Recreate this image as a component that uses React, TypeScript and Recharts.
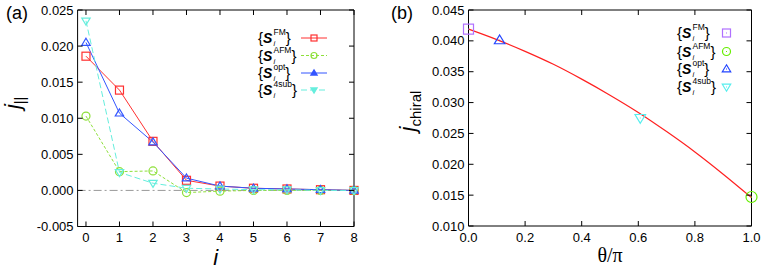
import React from 'react'
import {
  ComposedChart,
  LineChart,
  Line,
  Scatter,
  XAxis,
  YAxis,
  ReferenceLine,
} from 'recharts'

const SANS = '"Liberation Sans", Arial, Helvetica, sans-serif'
const SERIF = '"Liberation Serif", "Times New Roman", serif'

// ---- panel (a): j_parallel vs site i
const SITES = [0, 1, 2, 3, 4, 5, 6, 7, 8]
const J_PAR_FM = [0.0186, 0.0139, 0.0068, 0.0014, 0.0006, 0.0003, 0.0002, 0.0001, 0.0]
const J_PAR_AFM = [0.0103, 0.0026, 0.0027, -0.0003, -0.0001, 0.0, 0.0, 0.0, 0.0]
const J_PAR_OPT = [0.0205, 0.0107, 0.0067, 0.0017, 0.0006, 0.0003, 0.0002, 0.0001, 0.0]
const J_PAR_4SUB = [0.0235, 0.0025, 0.001, 0.0003, 0.0002, 0.0001, 0.0001, 0.0, 0.0]
const A_X_TICKS = [0, 1, 2, 3, 4, 5, 6, 7, 8]
const A_Y_TICKS = [-0.005, 0, 0.005, 0.01, 0.015, 0.02, 0.025]

const SERIES_SUP = ['FM', 'AFM', 'opt', '4sub']

// ---- panel (b): j_chiral vs theta/pi
const THETA = [0, 0.1, 0.2, 0.3, 0.4, 0.5, 0.6, 0.7, 0.8, 0.9, 1.0]
const J_CHIRAL = [0.0419, 0.0402, 0.0383, 0.0362, 0.0338, 0.0312, 0.0284, 0.0253, 0.022, 0.0184, 0.0146]
const CONFIG_THETA = [0, 1.0, 0.11, 0.607]
const CONFIG_J = [0.0419, 0.0147, 0.0401, 0.0275]
const B_X_TICKS = [0, 0.2, 0.4, 0.6, 0.8, 1.0]
const B_Y_TICKS = [0.01, 0.015, 0.02, 0.025, 0.03, 0.035, 0.04, 0.045]

type Shape = 'square' | 'circle' | 'up' | 'down'

const A_STYLE: { key: string; color: string; shape: Shape; dash?: string }[] = [
  { key: 'fm', color: '#ff3030', shape: 'square' },
  { key: 'afm', color: '#8ee03a', shape: 'circle', dash: '3 2' },
  { key: 'opt', color: '#3355ff', shape: 'up' },
  { key: 'sub4', color: '#66eedd', shape: 'down', dash: '6 3' },
]

const B_STYLE: { color: string; shape: Shape }[] = [
  { color: '#b070ff', shape: 'square' },
  { color: '#66ee00', shape: 'circle' },
  { color: '#2244ff', shape: 'up' },
  { color: '#55eeee', shape: 'down' },
]

const AXIS_W = 60
const AXIS_H = 30

function Marker({
  cx,
  cy,
  shape,
  size,
  color,
  filled = false,
  dot = false,
}: {
  cx: number
  cy: number
  shape: Shape
  size: number
  color: string
  filled?: boolean
  dot?: boolean
}) {
  const h = size / 2
  const common = {
    stroke: color,
    strokeWidth: 1.2,
    fill: filled ? color : 'none',
  }
  let el: React.ReactNode = null
  if (shape === 'square') {
    el = <rect x={cx - h} y={cy - h} width={size} height={size} {...common} />
  } else if (shape === 'circle') {
    el = <circle cx={cx} cy={cy} r={h} {...common} />
  } else if (shape === 'up') {
    el = (
      <polygon
        points={`${cx},${cy - h * 1.05} ${cx + h * 1.05},${cy + h * 0.7} ${cx - h * 1.05},${cy + h * 0.7}`}
        {...common}
      />
    )
  } else {
    el = (
      <polygon
        points={`${cx},${cy + h * 1.05} ${cx + h * 1.05},${cy - h * 0.7} ${cx - h * 1.05},${cy - h * 0.7}`}
        {...common}
      />
    )
  }
  return (
    <g>
      {el}
      {dot && <rect x={cx - 0.5} y={cy - 0.5} width={1} height={1} fill={color} />}
    </g>
  )
}

// ticks drawn inward on both sides, gnuplot style
const xTick = (plotH: number, digits: number) => (p: any) => {
  const { x, y, payload } = p
  return (
    <g key={`xt-${payload.value}`}>
      <line x1={x} x2={x} y1={y} y2={y - 5} stroke="#000" />
      <line x1={x} x2={x} y1={y - plotH} y2={y - plotH + 5} stroke="#000" />
      <text x={x} y={y + 15.5} textAnchor="middle" fontSize={13} fontFamily={SANS} fill="#000">
        {Number(payload.value).toFixed(digits)}
      </text>
    </g>
  )
}

const yTick = (plotW: number, digits: number) => (p: any) => {
  const { x, y, payload } = p
  return (
    <g key={`yt-${payload.value}`}>
      <line x1={x} x2={x + 5} y1={y} y2={y} stroke="#000" />
      <line x1={x + plotW} x2={x + plotW - 5} y1={y} y2={y} stroke="#000" />
      <text x={x - 4} y={y + 4.5} textAnchor="end" fontSize={13} fontFamily={SANS} fill="#000">
        {Number(payload.value).toFixed(digits)}
      </text>
    </g>
  )
}

// {S_i^sup} in one text element: sub "i" sits under the superscript
function SpinLabel({ x, y, sup }: { x: number; y: number; sup: string }) {
  return (
    <text x={x} y={y} fontSize={15} fontFamily={SANS} fill="#000">
      {'{'}
      <tspan fontWeight="bold" fontStyle="italic" fontSize={14}>
        S
      </tspan>
      <tspan fontSize={7.5} fontStyle="italic" x={x + 15.5} dy={3}>
        i
      </tspan>
      <tspan fontSize={8.5} x={x + 15.5} dy={-11}>
        {sup}
      </tspan>
      <tspan fontSize={15} dy={8}>
        {'}'}
      </tspan>
    </text>
  )
}

function PanelA() {
  const W = 380
  const H = 271
  const left = 77.6
  const right = 354
  const top = 10
  const bottom = 226.5
  const rows = SITES.map((i, k) => ({
    i,
    fm: J_PAR_FM[k],
    afm: J_PAR_AFM[k],
    opt: J_PAR_OPT[k],
    sub4: J_PAR_4SUB[k],
  }))
  const legendRows = [38, 55.5, 73, 90]
  return (
    <div style={{ position: 'absolute', left: 0, top: 0, width: W, height: H }}>
      <LineChart
        width={W}
        height={H}
        data={rows}
        margin={{ top, right: W - right, bottom: H - bottom - AXIS_H, left: left - AXIS_W }}
      >
        <XAxis
          dataKey="i"
          type="number"
          domain={[-0.25, 8]}
          ticks={A_X_TICKS}
          height={AXIS_H}
          tickSize={0}
          tickMargin={0}
          tickLine={false}
          axisLine={{ stroke: '#000' }}
          tick={xTick(bottom - top, 0)}
          interval={0}
        />
        <YAxis
          type="number"
          domain={[-0.005, 0.025]}
          ticks={A_Y_TICKS}
          width={AXIS_W}
          tickSize={0}
          tickMargin={0}
          tickLine={false}
          axisLine={{ stroke: '#000' }}
          tick={yTick(right - left, 3)}
          interval={0}
        />
        <ReferenceLine y={0.025} stroke="#000" />
        <ReferenceLine x={8} stroke="#000" />
        <ReferenceLine y={0} stroke="#999" strokeDasharray="8 3 2 3" />
        {A_STYLE.map((s) => (
          <Line
            key={s.key}
            dataKey={s.key}
            stroke={s.color}
            strokeWidth={1}
            strokeDasharray={s.dash}
            isAnimationActive={false}
            activeDot={false}
            dot={(p: any) => (
              <Marker key={`${s.key}-${p.index}`} cx={p.cx} cy={p.cy} shape={s.shape} size={8} color={s.color} />
            )}
          />
        ))}
      </LineChart>
      <svg
        width={W}
        height={H}
        style={{ position: 'absolute', left: 0, top: 0, pointerEvents: 'none' }}
      >
        <text x={6} y={19} fontSize={18} fontFamily={SANS} fill="#000">
          (a)
        </text>
        <text
          x={20}
          y={103}
          transform="rotate(-90 20 103)"
          textAnchor="middle"
          fontFamily={SANS}
          fill="#000"
        >
          <tspan fontSize={22} fontStyle="italic">
            j
          </tspan>
          <tspan fontSize={14} dy={5}>
            ||
          </tspan>
        </text>
        <text x={(left + right) / 2} y={265} textAnchor="middle" fontSize={22} fontStyle="italic" fontFamily={SANS} fill="#000">
          i
        </text>
        {A_STYLE.map((s, k) => (
          <g key={s.key}>
            <SpinLabel x={258} y={legendRows[k] + 5} sup={SERIES_SUP[k]} />
            <line
              x1={301}
              x2={327}
              y1={legendRows[k]}
              y2={legendRows[k]}
              stroke={s.color}
              strokeDasharray={s.dash}
            />
            <Marker
              cx={314}
              cy={legendRows[k]}
              shape={s.shape}
              size={6}
              color={s.color}
              filled={s.shape === 'up' || s.shape === 'down'}
            />
          </g>
        ))}
      </svg>
    </div>
  )
}

function PanelB() {
  const W = 383
  const H = 271
  const left = 88.5
  const right = 371.5
  const top = 10
  const bottom = 226
  const curve = THETA.map((t, k) => ({ t, j: J_CHIRAL[k] }))
  const legendRows = [33, 51.5, 69, 87]
  return (
    <div style={{ position: 'absolute', left: 380, top: 0, width: W, height: H }}>
      <ComposedChart
        width={W}
        height={H}
        data={curve}
        margin={{ top, right: W - right, bottom: H - bottom - AXIS_H, left: left - AXIS_W }}
      >
        <XAxis
          dataKey="t"
          type="number"
          domain={[0, 1]}
          ticks={B_X_TICKS}
          height={AXIS_H}
          tickSize={0}
          tickMargin={0}
          tickLine={false}
          axisLine={{ stroke: '#000' }}
          tick={xTick(bottom - top, 1)}
          interval={0}
        />
        <YAxis
          type="number"
          domain={[0.01, 0.045]}
          ticks={B_Y_TICKS}
          width={AXIS_W}
          tickSize={0}
          tickMargin={0}
          tickLine={false}
          axisLine={{ stroke: '#000' }}
          tick={yTick(right - left, 3)}
          interval={0}
        />
        <ReferenceLine y={0.045} stroke="#000" />
        <ReferenceLine x={1} stroke="#000" />
        <Line
          dataKey="j"
          type="monotone"
          stroke="#ff2020"
          strokeWidth={1.2}
          dot={false}
          activeDot={false}
          isAnimationActive={false}
        />
        {B_STYLE.map((s, k) => (
          <Scatter
            key={k}
            data={[{ t: CONFIG_THETA[k], j: CONFIG_J[k] }]}
            dataKey="j"
            isAnimationActive={false}
            shape={(p: any) => (
              <Marker cx={p.cx} cy={p.cy} shape={s.shape} size={s.shape === 'circle' ? 11 : 10} color={s.color} dot />
            )}
          />
        ))}
      </ComposedChart>
      <svg
        width={W}
        height={H}
        style={{ position: 'absolute', left: 0, top: 0, pointerEvents: 'none' }}
      >
        <text x={11} y={19} fontSize={18} fontFamily={SANS} fill="#000">
          (b)
        </text>
        <text
          x={35}
          y={111}
          transform="rotate(-90 35 111)"
          textAnchor="middle"
          fontFamily={SANS}
          fill="#000"
        >
          <tspan fontSize={22} fontStyle="italic">
            j
          </tspan>
          <tspan fontSize={15} dy={6}>
            chiral
          </tspan>
        </text>
        <text x={(left + right) / 2} y={262} textAnchor="middle" fontSize={20} fontFamily={SERIF} fill="#000">
          θ/π
        </text>
        {B_STYLE.map((s, k) => (
          <g key={k}>
            <SpinLabel x={297} y={legendRows[k] + 5} sup={SERIES_SUP[k]} />
            <Marker cx={346.5} cy={legendRows[k]} shape={s.shape} size={8} color={s.color} dot />
          </g>
        ))}
      </svg>
    </div>
  )
}

export default function App() {
  return (
    <div style={{ position: 'absolute', left: 0, top: 0, width: 763, height: 271, background: '#fff' }}>
      <PanelA />
      <PanelB />
    </div>
  )
}
